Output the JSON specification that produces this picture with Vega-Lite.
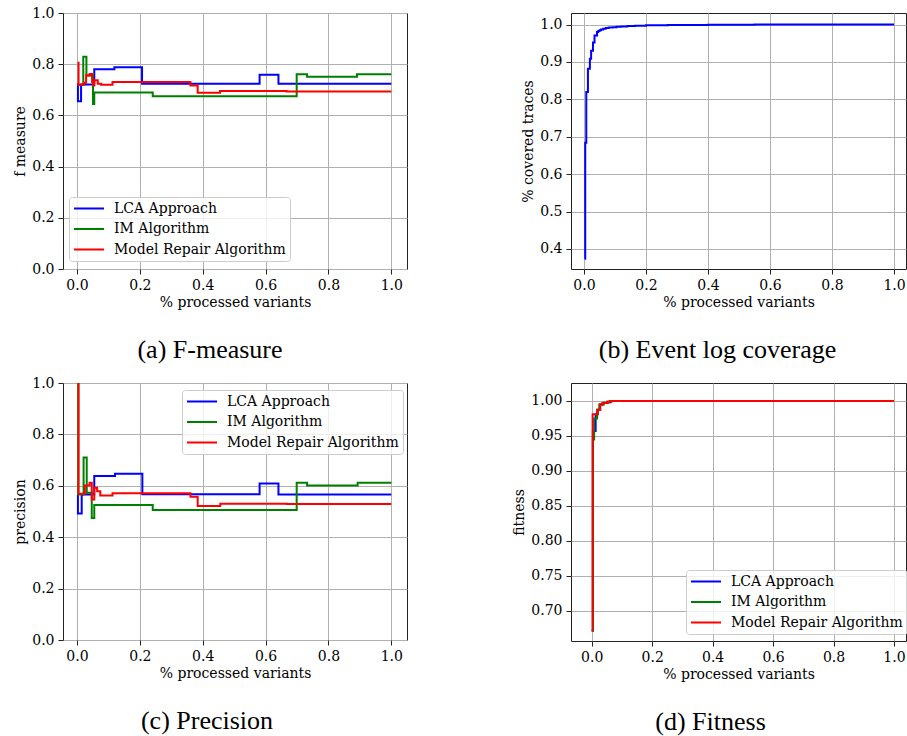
{
  "$schema": "https://vega.github.io/schema/vega-lite/v6.json",
  "background": "white",
  "padding": {"left": 13, "top": 5, "right": 0, "bottom": 0},
  "datasets": {
    "fmeasure": [
      {"x": 0.002, "y": 0.724, "series": "LCA Approach"},
      {"x": 0.003, "y": 0.655, "series": "LCA Approach"},
      {"x": 0.013, "y": 0.721, "series": "LCA Approach"},
      {"x": 0.055, "y": 0.780, "series": "LCA Approach"},
      {"x": 0.119, "y": 0.788, "series": "LCA Approach"},
      {"x": 0.207, "y": 0.724, "series": "LCA Approach"},
      {"x": 0.581, "y": 0.759, "series": "LCA Approach"},
      {"x": 0.641, "y": 0.724, "series": "LCA Approach"},
      {"x": 1.0, "y": 0.724, "series": "LCA Approach"},
      {"x": 0.002, "y": 0.720, "series": "IM Algorithm"},
      {"x": 0.020, "y": 0.829, "series": "IM Algorithm"},
      {"x": 0.030, "y": 0.756, "series": "IM Algorithm"},
      {"x": 0.051, "y": 0.645, "series": "IM Algorithm"},
      {"x": 0.055, "y": 0.689, "series": "IM Algorithm"},
      {"x": 0.241, "y": 0.675, "series": "IM Algorithm"},
      {"x": 0.699, "y": 0.761, "series": "IM Algorithm"},
      {"x": 0.732, "y": 0.751, "series": "IM Algorithm"},
      {"x": 0.891, "y": 0.761, "series": "IM Algorithm"},
      {"x": 1.0, "y": 0.761, "series": "IM Algorithm"},
      {"x": 0.002, "y": 0.806, "series": "Model Repair Algorithm"},
      {"x": 0.005, "y": 0.720, "series": "Model Repair Algorithm"},
      {"x": 0.022, "y": 0.728, "series": "Model Repair Algorithm"},
      {"x": 0.029, "y": 0.756, "series": "Model Repair Algorithm"},
      {"x": 0.040, "y": 0.762, "series": "Model Repair Algorithm"},
      {"x": 0.048, "y": 0.730, "series": "Model Repair Algorithm"},
      {"x": 0.052, "y": 0.717, "series": "Model Repair Algorithm"},
      {"x": 0.055, "y": 0.737, "series": "Model Repair Algorithm"},
      {"x": 0.066, "y": 0.724, "series": "Model Repair Algorithm"},
      {"x": 0.077, "y": 0.720, "series": "Model Repair Algorithm"},
      {"x": 0.113, "y": 0.730, "series": "Model Repair Algorithm"},
      {"x": 0.361, "y": 0.717, "series": "Model Repair Algorithm"},
      {"x": 0.384, "y": 0.688, "series": "Model Repair Algorithm"},
      {"x": 0.455, "y": 0.695, "series": "Model Repair Algorithm"},
      {"x": 0.667, "y": 0.693, "series": "Model Repair Algorithm"},
      {"x": 1.0, "y": 0.693, "series": "Model Repair Algorithm"}
    ],
    "coverage": [
      {"x": 0.002, "y": 0.374},
      {"x": 0.004, "y": 0.684},
      {"x": 0.0074, "y": 0.820},
      {"x": 0.0127, "y": 0.882},
      {"x": 0.019, "y": 0.909},
      {"x": 0.023, "y": 0.930},
      {"x": 0.029, "y": 0.952},
      {"x": 0.034, "y": 0.971},
      {"x": 0.042, "y": 0.980},
      {"x": 0.046, "y": 0.983},
      {"x": 0.050, "y": 0.985},
      {"x": 0.055, "y": 0.987},
      {"x": 0.062, "y": 0.989},
      {"x": 0.070, "y": 0.991},
      {"x": 0.080, "y": 0.992},
      {"x": 0.092, "y": 0.993},
      {"x": 0.105, "y": 0.994},
      {"x": 0.120, "y": 0.995},
      {"x": 0.140, "y": 0.996},
      {"x": 0.165, "y": 0.997},
      {"x": 0.200, "y": 0.998},
      {"x": 0.270, "y": 0.999},
      {"x": 0.400, "y": 0.9995},
      {"x": 0.550, "y": 1.0},
      {"x": 1.0, "y": 1.0}
    ],
    "precision": [
      {"x": 0.002, "y": 0.566, "series": "LCA Approach"},
      {"x": 0.003, "y": 0.492, "series": "LCA Approach"},
      {"x": 0.015, "y": 0.566, "series": "LCA Approach"},
      {"x": 0.055, "y": 0.638, "series": "LCA Approach"},
      {"x": 0.121, "y": 0.647, "series": "LCA Approach"},
      {"x": 0.208, "y": 0.567, "series": "LCA Approach"},
      {"x": 0.581, "y": 0.609, "series": "LCA Approach"},
      {"x": 0.641, "y": 0.566, "series": "LCA Approach"},
      {"x": 1.0, "y": 0.566, "series": "LCA Approach"},
      {"x": 0.002, "y": 1.0, "series": "IM Algorithm"},
      {"x": 0.004, "y": 0.566, "series": "IM Algorithm"},
      {"x": 0.021, "y": 0.710, "series": "IM Algorithm"},
      {"x": 0.031, "y": 0.573, "series": "IM Algorithm"},
      {"x": 0.047, "y": 0.475, "series": "IM Algorithm"},
      {"x": 0.055, "y": 0.525, "series": "IM Algorithm"},
      {"x": 0.241, "y": 0.506, "series": "IM Algorithm"},
      {"x": 0.699, "y": 0.612, "series": "IM Algorithm"},
      {"x": 0.732, "y": 0.601, "series": "IM Algorithm"},
      {"x": 0.893, "y": 0.612, "series": "IM Algorithm"},
      {"x": 1.0, "y": 0.612, "series": "IM Algorithm"},
      {"x": 0.002, "y": 1.0, "series": "Model Repair Algorithm"},
      {"x": 0.005, "y": 0.569, "series": "Model Repair Algorithm"},
      {"x": 0.025, "y": 0.601, "series": "Model Repair Algorithm"},
      {"x": 0.040, "y": 0.612, "series": "Model Repair Algorithm"},
      {"x": 0.047, "y": 0.547, "series": "Model Repair Algorithm"},
      {"x": 0.055, "y": 0.592, "series": "Model Repair Algorithm"},
      {"x": 0.064, "y": 0.579, "series": "Model Repair Algorithm"},
      {"x": 0.074, "y": 0.562, "series": "Model Repair Algorithm"},
      {"x": 0.113, "y": 0.571, "series": "Model Repair Algorithm"},
      {"x": 0.361, "y": 0.557, "series": "Model Repair Algorithm"},
      {"x": 0.384, "y": 0.521, "series": "Model Repair Algorithm"},
      {"x": 0.456, "y": 0.530, "series": "Model Repair Algorithm"},
      {"x": 0.667, "y": 0.529, "series": "Model Repair Algorithm"},
      {"x": 1.0, "y": 0.529, "series": "Model Repair Algorithm"}
    ],
    "fitness": [
      {"x": 0.0, "y": 0.672, "series": "LCA Approach"},
      {"x": 0.004, "y": 0.957, "series": "LCA Approach"},
      {"x": 0.013, "y": 0.981, "series": "LCA Approach"},
      {"x": 0.020, "y": 0.987, "series": "LCA Approach"},
      {"x": 0.028, "y": 0.995, "series": "LCA Approach"},
      {"x": 0.036, "y": 0.997, "series": "LCA Approach"},
      {"x": 0.052, "y": 0.999, "series": "LCA Approach"},
      {"x": 0.065, "y": 1.0, "series": "LCA Approach"},
      {"x": 1.0, "y": 1.0, "series": "LCA Approach"},
      {"x": 0.0, "y": 0.672, "series": "IM Algorithm"},
      {"x": 0.004, "y": 0.945, "series": "IM Algorithm"},
      {"x": 0.008, "y": 0.975, "series": "IM Algorithm"},
      {"x": 0.018, "y": 0.988, "series": "IM Algorithm"},
      {"x": 0.025, "y": 0.995, "series": "IM Algorithm"},
      {"x": 0.040, "y": 0.998, "series": "IM Algorithm"},
      {"x": 0.060, "y": 1.0, "series": "IM Algorithm"},
      {"x": 1.0, "y": 1.0, "series": "IM Algorithm"},
      {"x": 0.0, "y": 0.672, "series": "Model Repair Algorithm"},
      {"x": 0.003, "y": 0.981, "series": "Model Repair Algorithm"},
      {"x": 0.019, "y": 0.987, "series": "Model Repair Algorithm"},
      {"x": 0.028, "y": 0.995, "series": "Model Repair Algorithm"},
      {"x": 0.036, "y": 0.997, "series": "Model Repair Algorithm"},
      {"x": 0.052, "y": 0.999, "series": "Model Repair Algorithm"},
      {"x": 0.063, "y": 1.0, "series": "Model Repair Algorithm"},
      {"x": 1.0, "y": 1.0, "series": "Model Repair Algorithm"}
    ]
  },
  "columns": 2,
  "spacing": {"row": 114, "column": 164},
  "bounds": "flush",
  "concat": [
    {
      "data": {"name": "fmeasure"},
      "width": 344,
      "height": 256,
      "title": {"text": "(a) F-measure", "orient": "bottom", "anchor": "middle", "frame": "group", "dx": -25, "offset": 28},
      "mark": {"type": "line", "interpolate": "step-after", "strokeWidth": 2, "clip": true},
      "encoding": {
        "x": {"field": "x", "type": "quantitative", "title": "% processed variants",
              "scale": {"domain": [-0.0445, 1.05], "nice": false, "zero": false},
              "axis": {"values": [0, 0.2, 0.4, 0.6, 0.8, 1.0], "format": ".1f"}},
        "y": {"field": "y", "type": "quantitative", "title": "f measure",
              "scale": {"domain": [0, 1], "nice": false},
              "axis": {"values": [0, 0.2, 0.4, 0.6, 0.8, 1.0], "format": ".1f"}},
        "color": {"field": "series", "type": "nominal",
                  "scale": {"domain": ["LCA Approach", "IM Algorithm", "Model Repair Algorithm"], "range": ["#0000ff", "#008000", "#ff0000"]},
                  "legend": {"title": null, "orient": "none", "legendX": 6, "legendY": 184}}
      }
    },
    {
      "data": {"name": "coverage"},
      "width": 335,
      "height": 256,
      "title": {"text": "(b) Event log coverage", "orient": "bottom", "anchor": "middle", "frame": "group", "dx": -21, "offset": 28},
      "mark": {"type": "line", "interpolate": "step-after", "strokeWidth": 2, "clip": true, "color": "#0000ff"},
      "encoding": {
        "x": {"field": "x", "type": "quantitative", "title": "% processed variants",
              "scale": {"domain": [-0.0419, 1.0387], "nice": false, "zero": false},
              "axis": {"values": [0, 0.2, 0.4, 0.6, 0.8, 1.0], "format": ".1f"}},
        "y": {"field": "y", "type": "quantitative", "title": "% covered traces",
              "scale": {"domain": [0.3465, 1.031], "nice": false, "zero": false},
              "axis": {"values": [0.4, 0.5, 0.6, 0.7, 0.8, 0.9, 1.0], "format": ".1f"}}
      }
    },
    {
      "data": {"name": "precision"},
      "width": 344,
      "height": 257,
      "title": {"text": "(c) Precision", "orient": "bottom", "anchor": "middle", "frame": "group", "dx": -28, "offset": 28},
      "mark": {"type": "line", "interpolate": "step-after", "strokeWidth": 2, "clip": true},
      "encoding": {
        "x": {"field": "x", "type": "quantitative", "title": "% processed variants",
              "scale": {"domain": [-0.0445, 1.05], "nice": false, "zero": false},
              "axis": {"values": [0, 0.2, 0.4, 0.6, 0.8, 1.0], "format": ".1f"}},
        "y": {"field": "y", "type": "quantitative", "title": "precision",
              "scale": {"domain": [0, 1], "nice": false},
              "axis": {"values": [0, 0.2, 0.4, 0.6, 0.8, 1.0], "format": ".1f"}},
        "color": {"field": "series", "type": "nominal",
                  "scale": {"domain": ["LCA Approach", "IM Algorithm", "Model Repair Algorithm"], "range": ["#0000ff", "#008000", "#ff0000"]},
                  "legend": {"title": null, "orient": "none", "legendX": 119, "legendY": 7}}
      }
    },
    {
      "data": {"name": "fitness"},
      "width": 335,
      "height": 258,
      "title": {"text": "(d) Fitness", "orient": "bottom", "anchor": "middle", "frame": "group", "dx": -28, "offset": 28},
      "mark": {"type": "line", "interpolate": "step-after", "strokeWidth": 2, "clip": true},
      "encoding": {
        "x": {"field": "x", "type": "quantitative", "title": "% processed variants",
              "scale": {"domain": [-0.0685, 1.0397], "nice": false, "zero": false},
              "axis": {"values": [0, 0.2, 0.4, 0.6, 0.8, 1.0], "format": ".1f"}},
        "y": {"field": "y", "type": "quantitative", "title": "fitness",
              "scale": {"domain": [0.6571, 1.0257], "nice": false, "zero": false},
              "axis": {"values": [0.7, 0.75, 0.8, 0.85, 0.9, 0.95, 1.0], "format": ".2f"}},
        "color": {"field": "series", "type": "nominal",
                  "scale": {"domain": ["LCA Approach", "IM Algorithm", "Model Repair Algorithm"], "range": ["#0000ff", "#008000", "#ff0000"]},
                  "legend": {"title": null, "orient": "none", "legendX": 115, "legendY": 187}}
      }
    }
  ],
  "resolve": {"scale": {"x": "independent", "y": "independent", "color": "independent"}, "legend": {"color": "independent"}},
  "config": {
    "font": "'DejaVu Serif', serif",
    "view": {"stroke": "#222222", "strokeWidth": 1},
    "axis": {
      "labelFont": "'DejaVu Serif', serif", "labelFontSize": 14, "labelColor": "#000000",
      "titleFont": "'DejaVu Serif', serif", "titleFontSize": 14, "titleFontWeight": "normal", "titleColor": "#000000",
      "domain": false, "tickColor": "#222222", "tickSize": 5, "tickWidth": 1,
      "labelPadding": 4, "titlePadding": 4,
      "gridColor": "#b0b0b0", "gridWidth": 1, "gridOpacity": 1
    },
    "axisX": {"titlePadding": 3},
    "legend": {
      "labelFont": "'DejaVu Serif', serif", "labelFontSize": 14, "labelColor": "#000000", "labelLimit": 300,
      "symbolType": "stroke", "symbolSize": 900, "symbolStrokeWidth": 2,
      "padding": 4, "clipHeight": 15, "rowPadding": 5.5, "symbolOffset": 0, "labelOffset": 9,
      "fillColor": "rgba(255,255,255,0.8)", "strokeColor": "#cccccc", "cornerRadius": 3
    },
    "title": {"font": "'Liberation Serif', serif", "fontSize": 26, "fontWeight": "normal", "color": "#000000"}
  }
}
